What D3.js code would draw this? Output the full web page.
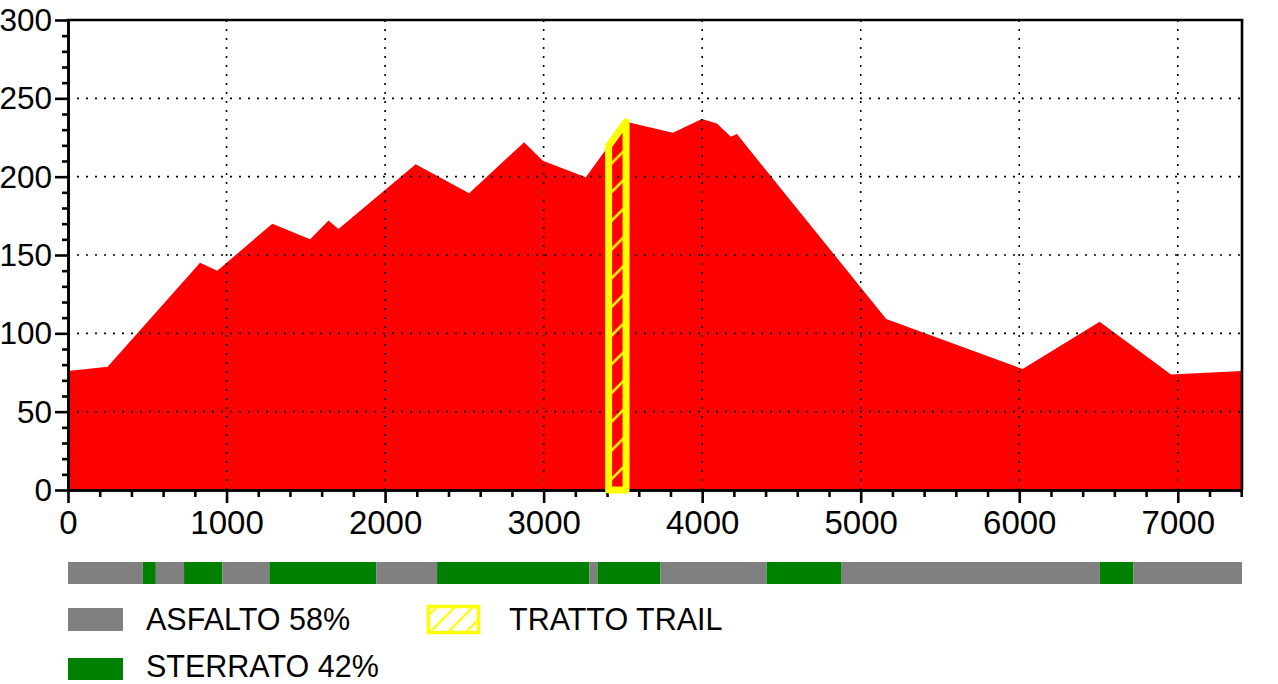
<!DOCTYPE html>
<html><head><meta charset="utf-8">
<script src="https://cdn.jsdelivr.net/npm/d3@7"></script>
<style>
html,body{margin:0;padding:0;background:#fff;}
svg{display:block;font-family:"Liberation Sans",Arial,sans-serif;}
</style></head>
<body><svg id="chart" width="1278" height="684"></svg>
<script>
// ---- data ----
const distance = [0, 250, 833, 942, 1289, 1527, 1643, 1706, 2193, 2530, 2877, 2995, 3266, 3520, 3815, 3998, 4093, 4181, 4219, 5161, 6021, 6507, 6957, 7405];
const elevation = [76, 78.7, 145, 140, 170, 160, 172, 166.6, 208, 189.4, 222, 210.2, 199.6, 235, 228, 236.8, 234, 225.5, 227.2, 109.1, 77.2, 107.4, 73.8, 76];
const trailRange = [3410, 3520];
const surfaceBreaks = [0, 472, 554, 732, 974, 1270, 1944, 2328, 3289, 3340, 3737, 4406, 4880, 6508, 6720, 7405];
const surfaceTypes = ["ASFALTO","STERRATO","ASFALTO","STERRATO","ASFALTO","STERRATO","ASFALTO","STERRATO","ASFALTO","STERRATO","ASFALTO","STERRATO","ASFALTO","STERRATO","ASFALTO"];
const yTicks = [0, 50, 100, 150, 200, 250, 300];
const xTicks = [0, 1000, 2000, 3000, 4000, 5000, 6000, 7000];
const legendLabels = ["ASFALTO 58%", "STERRATO 42%", "TRATTO TRAIL"];

const surfaceColor = {ASFALTO: "#808080", STERRATO: "#008000"};

const svg = d3.select("#chart");
const L = 68, R = 1242, T = 20, B = 490;
const x = d3.scaleLinear().domain([0, 7405]).range([L, R]);
const y = d3.scaleLinear().domain([0, 300]).range([B, T]);

const defs = svg.append("defs");
function hatch(id, w, sw) {
  const p = defs.append("pattern").attr("id", id).attr("patternUnits", "userSpaceOnUse")
    .attr("width", w).attr("height", w);
  p.append("path").attr("d", `M0,${w} L${w},0 M${-w/2},${w/2} L${w/2},${-w/2} M${w/2},${w*1.5} L${w*1.5},${w/2}`)
    .attr("stroke", "#ffff00").attr("stroke-width", sw).attr("fill", "none");
}
hatch("hatchBig", 28.7, 2.6);
hatch("hatchSmall", 18, 2.2);

const profile = distance.map((d, i) => [d, elevation[i]]);

// area
const area = d3.area().x(d => x(d[0])).y0(y(0)).y1(d => y(d[1]));
svg.append("path").datum(profile).attr("d", area).attr("fill", "#ff0000");

// grid
const dash = "2,7";
const grid = svg.append("g").attr("stroke", "#000").attr("stroke-width", 1.6).attr("stroke-dasharray", dash);
grid.selectAll(".gy").data(yTicks.filter(v => v > 0 && v < 300)).join("line")
  .attr("x1", L).attr("x2", R).attr("y1", d => y(d)).attr("y2", d => y(d));
grid.selectAll(".gx").data(xTicks.filter(v => v > 0)).join("line")
  .attr("y1", T).attr("y2", B).attr("x1", d => x(d)).attr("x2", d => x(d));

// axes
const yMinor = d3.range(0, 301, 10).filter(v => v % 50 !== 0);
const xMinor = d3.range(0, 7401, 200).filter(v => v % 1000 !== 0);

const yAx = svg.append("g").attr("transform", `translate(${L},0)`)
  .call(d3.axisLeft(y).tickValues(yTicks).tickSize(13).tickSizeOuter(0).tickPadding(3).tickFormat(d3.format("d")));
svg.append("g").attr("transform", `translate(${L},0)`)
  .call(d3.axisLeft(y).tickValues(yMinor).tickSize(6).tickSizeOuter(0).tickFormat(""));
const xAx = svg.append("g").attr("transform", `translate(0,${B})`)
  .call(d3.axisBottom(x).tickValues(xTicks).tickSize(13).tickSizeOuter(0).tickPadding(8).tickFormat(d3.format("d")));
svg.append("g").attr("transform", `translate(0,${B})`)
  .call(d3.axisBottom(x).tickValues(xMinor).tickSize(7).tickSizeOuter(0).tickFormat(""));
svg.selectAll(".domain, .tick line").attr("stroke", "#000").attr("stroke-width", 2.6);
svg.selectAll(".tick text").attr("font-family", "Liberation Sans, Arial, sans-serif").attr("fill", "#000");
xAx.selectAll(".tick text").attr("font-size", 33);
yAx.selectAll(".tick text").attr("font-size", 31.5).attr("dy", "0.33em");

// frame top/right
svg.append("line").attr("x1", L - 1.3).attr("x2", R + 1.3).attr("y1", T).attr("y2", T).attr("stroke", "#000").attr("stroke-width", 2.6);
svg.append("line").attr("x1", R).attr("x2", R).attr("y1", T).attr("y2", B).attr("stroke", "#000").attr("stroke-width", 2.6);

// trail polygon
function interp(xv) {
  for (let i = 0; i < profile.length - 1; i++) {
    const a = profile[i], b = profile[i + 1];
    if (xv >= a[0] && xv <= b[0]) return a[1] + (b[1] - a[1]) * (xv - a[0]) / (b[0] - a[0]);
  }
  return 0;
}
const trailPts = [[trailRange[0], interp(trailRange[0])]]
  .concat(profile.filter(p => p[0] > trailRange[0] && p[0] < trailRange[1]))
  .concat([[trailRange[1], interp(trailRange[1])]]);
const poly = [[trailRange[0], 0]].concat(trailPts).concat([[trailRange[1], 0]]);
svg.append("path")
  .attr("d", "M" + poly.map(p => x(p[0]) + "," + y(p[1])).join("L") + "Z")
  .attr("fill", "url(#hatchBig)").attr("stroke", "#ffff00").attr("stroke-width", 7).attr("stroke-linejoin", "round");

// surface bar
const barY = 562, barH = 22;
svg.append("g").selectAll("rect").data(surfaceTypes).join("rect")
  .attr("x", (d, i) => x(surfaceBreaks[i]))
  .attr("width", (d, i) => x(surfaceBreaks[i + 1]) - x(surfaceBreaks[i]))
  .attr("y", barY).attr("height", barH).attr("fill", d => surfaceColor[d]);

// legend
const lg = svg.append("g").attr("font-size", 30.5).attr("fill", "#000");
lg.append("rect").attr("x", 68).attr("y", 608).attr("width", 55).attr("height", 23).attr("fill", surfaceColor.ASFALTO);
lg.append("text").attr("x", 146).attr("y", 630).text(legendLabels[0]);
lg.append("rect").attr("x", 68).attr("y", 658).attr("width", 55).attr("height", 22).attr("fill", surfaceColor.STERRATO);
lg.append("text").attr("x", 146).attr("y", 677).text(legendLabels[1]);
lg.append("rect").attr("x", 428.5).attr("y", 606.5).attr("width", 50).attr("height", 26)
  .attr("fill", "url(#hatchSmall)").attr("stroke", "#ffff00").attr("stroke-width", 3.5);
lg.append("text").attr("x", 509).attr("y", 630).text(legendLabels[2]);
</script></body></html>
